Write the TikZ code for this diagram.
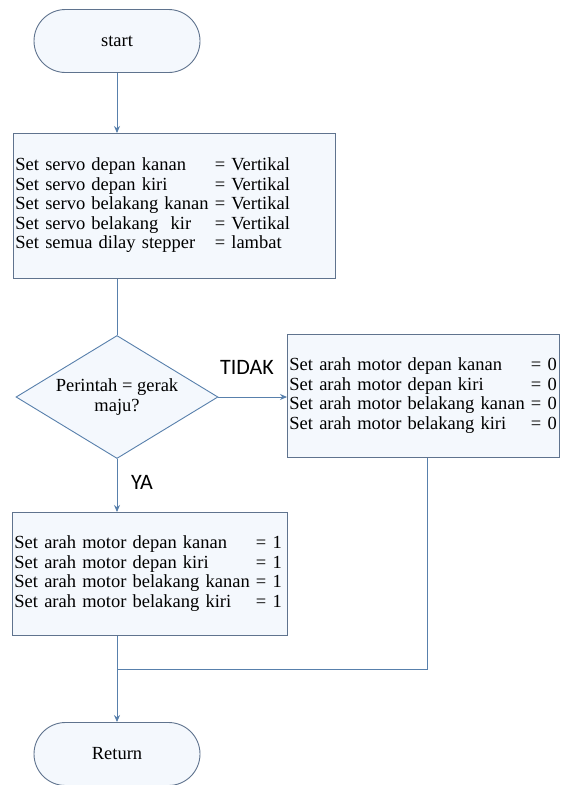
\documentclass[tikz,border=0pt]{standalone}
\usepackage{fontspec}
\setmainfont{Liberation Serif}
\newfontfamily\lblfont{Carlito}
\usetikzlibrary{shapes.geometric,shapes.misc,arrows.meta}
\definecolor{edgeblue}{RGB}{88,128,172}
\definecolor{boxline}{RGB}{95,115,142}
\definecolor{boxfill}{RGB}{244,248,253}
\tikzset{
  txt/.style={font=\fontsize{18.5}{19.5}\selectfont},
  term/.style={rounded rectangle, draw=boxline, line width=0.9pt, fill=boxfill,
    minimum width=166pt, minimum height=63pt, inner sep=0pt, txt},
  procbox/.style={rectangle, draw=boxline, line width=0.9pt, fill=boxfill,
    anchor=north west, inner sep=2pt, align=left, txt},
  dia/.style={diamond, draw=edgeblue, line width=0.9pt, fill=boxfill, aspect=1.64,
    minimum width=202pt, minimum height=123pt, inner sep=0pt, align=center, txt},
  lbl/.style={font=\lblfont\fontsize{22}{24}\selectfont, inner sep=0pt},
  link/.style={draw=edgeblue, line width=0.9pt},
  arr/.style={link, -{Stealth[length=7pt,width=6pt]}}
}
\begin{document}
\begin{tikzpicture}[x=1pt,y=-1pt]
\useasboundingbox[fill=white] (0,0) rectangle (560,785);
\node[term] (start) at (117,41) {start};
\node[procbox, minimum width=322pt, minimum height=145pt, text width=318pt] (b1) at (13,133)
 {\begin{tabular}{@{}l@{ }l@{}}
  Set servo depan kanan & = Vertikal\\
  Set servo depan kiri & = Vertikal\\
  Set servo belakang kanan & = Vertikal\\
  Set servo belakang\ \ kir & = Vertikal\\
  Set semua dilay stepper & = lambat
  \end{tabular}\par\vspace{6pt}};
\node[dia] (d) at (117,397) {Perintah = gerak\\maju?};
\node[procbox, minimum width=272pt, minimum height=123pt, text width=268pt] (b2) at (287,334)
 {\begin{tabular}{@{}l@{ }l@{}}
  Set arah motor depan kanan & = 0\\
  Set arah motor depan kiri & = 0\\
  Set arah motor belakang kanan & = 0\\
  Set arah motor belakang kiri & = 0
  \end{tabular}\par\vspace{10pt}};
\node[procbox, minimum width=275pt, minimum height=123pt, text width=271pt] (b3) at (12,512)
 {\begin{tabular}{@{}l@{ }l@{}}
  Set arah motor depan kanan & = 1\\
  Set arah motor depan kiri & = 1\\
  Set arah motor belakang kanan & = 1\\
  Set arah motor belakang kiri & = 1
  \end{tabular}};
\node[term] (ret) at (117,754) {Return};
\node[lbl] (tidak) at (247,367) {TIDAK};
\node[lbl] (ya) at (142,482) {YA};
\coordinate (j) at (117,669);
\draw[arr] (start.south) -- (start.south |- b1.north);
\draw[link] (start.south |- b1.south) -- (d.north);
\draw[arr] (d.east) -- (d.east -| b2.west);
\draw[arr] (d.south) -- (d.south |- b3.north);
\draw[link] ([xshift=4pt]b2.south) -- ([xshift=4pt]b2.south |- j) -- (j);
\draw[arr] (d.south |- b3.south) -- (ret.north);
\end{tikzpicture}
\end{document}
